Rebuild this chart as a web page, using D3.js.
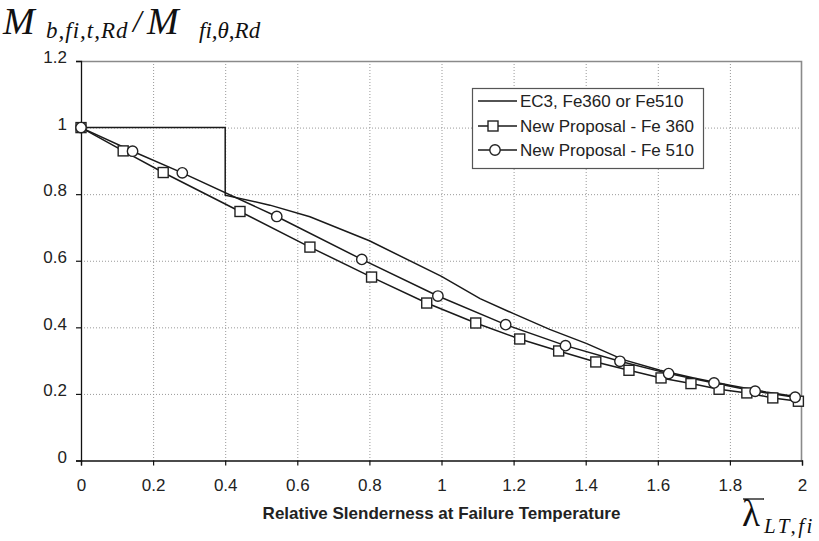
<!DOCTYPE html>
<html>
<head>
<meta charset="utf-8">
<script src="https://cdn.jsdelivr.net/npm/d3@7"></script>
<style>
  body { margin: 0; background: #fff; }
  svg { display: block; }
  .tick text { font-family: "Liberation Sans", Arial, sans-serif; font-size: 17px; fill: #222; }
</style>
</head>
<body>
<div id="chart"></div>
<script>
// Chart data
var ec3Lambda = [0, 0.4, 0.4, 0.524, 0.635, 0.8, 1.0, 1.107, 1.2, 1.3, 1.403, 1.504, 1.606, 1.7, 1.8, 1.9, 2.0];
var ec3Values = [1, 1, 0.797, 0.767, 0.732, 0.66, 0.553, 0.486, 0.441, 0.394, 0.351, 0.303, 0.271, 0.248, 0.226, 0.206, 0.189];

var fe360Lambda = [0, 0.117, 0.228, 0.441, 0.635, 0.806, 0.959, 1.095, 1.217, 1.325, 1.428, 1.52, 1.609, 1.692, 1.770, 1.847, 1.919, 1.990];
var fe360Values = [1, 0.930, 0.865, 0.748, 0.641, 0.551, 0.473, 0.413, 0.365, 0.329, 0.296, 0.271, 0.248, 0.231, 0.214, 0.203, 0.188, 0.178];

var fe510Lambda = [0, 0.143, 0.281, 0.543, 0.779, 0.990, 1.178, 1.344, 1.495, 1.630, 1.756, 1.870, 1.981];
var fe510Values = [1, 0.929, 0.864, 0.733, 0.604, 0.494, 0.408, 0.345, 0.298, 0.261, 0.233, 0.208, 0.190];

var xTicks = [0, 0.2, 0.4, 0.6, 0.8, 1, 1.2, 1.4, 1.6, 1.8, 2];
var yTicks = [0, 0.2, 0.4, 0.6, 0.8, 1, 1.2];

var seriesNames = ["EC3, Fe360 or Fe510", "New Proposal - Fe 360", "New Proposal - Fe 510"];

var svgWidth = 819;
var svgHeight = 541;

var chartMargin = { top: 61, right: 17, bottom: 80.5, left: 81 };
var chartWidth = svgWidth - chartMargin.left - chartMargin.right;
var chartHeight = svgHeight - chartMargin.top - chartMargin.bottom;

var svg = d3.select("#chart")
    .append("svg")
    .attr("width", svgWidth)
    .attr("height", svgHeight);

var chartGroup = svg.append("g")
    .attr("transform", `translate(${chartMargin.left}, ${chartMargin.top})`);

var xScale = d3.scaleLinear().domain([0, 2]).range([0, chartWidth]);
var yScale = d3.scaleLinear().domain([0, 1.2]).range([chartHeight, 0]);

// dotted gridlines
chartGroup.append("g")
    .selectAll("line")
    .data(xTicks.slice(1, -1))
    .enter()
    .append("line")
    .attr("x1", d => xScale(d) + 0.5)
    .attr("x2", d => xScale(d) + 0.5)
    .attr("y1", 0)
    .attr("y2", chartHeight)
    .attr("stroke", "#999")
    .attr("stroke-dasharray", "1,2");

chartGroup.append("g")
    .selectAll("line")
    .data(yTicks.slice(1, -1))
    .enter()
    .append("line")
    .attr("x1", 0)
    .attr("x2", chartWidth)
    .attr("y1", d => yScale(d) + 0.5)
    .attr("y2", d => yScale(d) + 0.5)
    .attr("stroke", "#999")
    .attr("stroke-dasharray", "1,2");

// gray frame on top and right
chartGroup.append("path")
    .attr("d", `M0,0.5H${chartWidth - 0.5}V${chartHeight}`)
    .attr("fill", "none")
    .attr("stroke", "#8a8a8a")
    .attr("stroke-width", 1.6);

// axes
var xAxis = d3.axisBottom(xScale).tickValues(xTicks).tickSize(5).tickPadding(13)
    .tickFormat(d3.format("~g"));
var yAxis = d3.axisLeft(yScale).tickValues(yTicks).tickSize(5).tickPadding(9)
    .tickFormat(d3.format("~g"));

var xAxisG = chartGroup.append("g")
    .attr("transform", `translate(0, ${chartHeight})`)
    .call(xAxis);
var yAxisG = chartGroup.append("g")
    .call(yAxis);

[xAxisG, yAxisG].forEach(function(g) {
    g.select(".domain").attr("stroke", "#111").attr("stroke-width", 1.3);
    g.selectAll(".tick line").attr("stroke", "#111").attr("stroke-width", 1.2);
});
yAxisG.selectAll(".tick text").attr("dy", "0.1em");
xAxisG.selectAll(".tick text").attr("dy", "0.71em");

// curves
var line = d3.line()
    .x(d => xScale(d[0]))
    .y(d => yScale(d[1]));

var ec3Data = d3.zip(ec3Lambda, ec3Values);
var fe360Data = d3.zip(fe360Lambda, fe360Values);
var fe510Data = d3.zip(fe510Lambda, fe510Values);

[ec3Data, fe360Data, fe510Data].forEach(function(data) {
    chartGroup.append("path")
        .datum(data)
        .attr("d", line)
        .attr("fill", "none")
        .attr("stroke", "#1a1a1a")
        .attr("stroke-width", 1.5);
});

var sq = 10;
chartGroup.append("g")
    .selectAll("rect")
    .data(fe360Data)
    .enter()
    .append("rect")
    .attr("x", d => xScale(d[0]) - sq / 2)
    .attr("y", d => yScale(d[1]) - sq / 2)
    .attr("width", sq)
    .attr("height", sq)
    .attr("fill", "#fff")
    .attr("stroke", "#222")
    .attr("stroke-width", 1.4);

chartGroup.append("g")
    .selectAll("circle")
    .data(fe510Data)
    .enter()
    .append("circle")
    .attr("cx", d => xScale(d[0]))
    .attr("cy", d => yScale(d[1]))
    .attr("r", 5.2)
    .attr("fill", "#fff")
    .attr("stroke", "#222")
    .attr("stroke-width", 1.4);

// legend
var legend = svg.append("g").attr("transform", "translate(472, 88)");
legend.append("rect")
    .attr("x", 0.5).attr("y", 0.5)
    .attr("width", 231).attr("height", 80)
    .attr("fill", "#fff")
    .attr("stroke", "#555")
    .attr("stroke-width", 1.2);

var rowY = [13, 38, 62];
seriesNames.forEach(function(name, i) {
    var row = legend.append("g").attr("transform", `translate(0, ${rowY[i]})`);
    row.append("line")
        .attr("x1", 6).attr("x2", 45)
        .attr("y1", 0).attr("y2", 0)
        .attr("stroke", "#1a1a1a")
        .attr("stroke-width", 1.5);
    if (i === 1) {
        row.append("rect")
            .attr("x", 21 - sq / 2).attr("y", -sq / 2)
            .attr("width", sq).attr("height", sq)
            .attr("fill", "#fff").attr("stroke", "#222").attr("stroke-width", 1.4);
    }
    if (i === 2) {
        row.append("circle")
            .attr("cx", 23).attr("cy", 0).attr("r", 5.2)
            .attr("fill", "#fff").attr("stroke", "#222").attr("stroke-width", 1.4);
    }
    row.append("text")
        .attr("x", 48)
        .attr("y", 6)
        .style("font-family", "'Liberation Sans', Arial, sans-serif")
        .style("font-size", "17px")
        .attr("fill", "#222")
        .text(name);
});

// x-axis title
svg.append("text")
    .attr("x", chartMargin.left + chartWidth / 2)
    .attr("y", 519)
    .attr("text-anchor", "middle")
    .style("font-family", "'Liberation Sans', Arial, sans-serif")
    .style("font-size", "17px")
    .style("font-weight", "bold")
    .attr("fill", "#222")
    .text("Relative Slenderness at Failure Temperature");

// y-axis title: M_b,fi,t,Rd / M_fi,θ,Rd
var serif = "'Liberation Serif', 'Times New Roman', serif";
var yTitle = svg.append("g").attr("fill", "#111").style("font-family", serif);
yTitle.append("text").attr("x", 3).attr("y", 34)
    .style("font-size", "38px").style("font-style", "italic").text("M");
yTitle.append("text").attr("x", 46).attr("y", 38)
    .style("font-size", "23px").style("font-style", "italic")
    .style("letter-spacing", "1px").text("b,fi,t,Rd");
yTitle.append("text").attr("x", 133).attr("y", 32)
    .style("font-size", "31px").style("font-style", "italic").text("/");
yTitle.append("text").attr("x", 147).attr("y", 34)
    .style("font-size", "38px").style("font-style", "italic").text("M");
yTitle.append("text").attr("x", 199).attr("y", 38)
    .style("font-size", "23px").style("font-style", "italic").text("fi,θ,Rd");

// lambda label, bottom right
var lam = svg.append("g").attr("fill", "#111").style("font-family", serif);
lam.append("text").attr("x", 742).attr("y", 526)
    .style("font-size", "37px").text("λ");
lam.append("line")
    .attr("x1", 743).attr("x2", 764)
    .attr("y1", 499).attr("y2", 499)
    .attr("stroke", "#111").attr("stroke-width", 1.3);
lam.append("text").attr("x", 764).attr("y", 533)
    .style("font-size", "21px").style("font-style", "italic")
    .style("letter-spacing", "2.5px").text("LT,fi");
</script>
</body>
</html>
